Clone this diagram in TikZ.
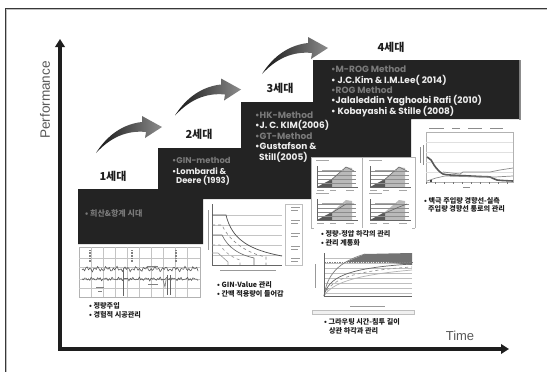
\documentclass[tikz,border=0pt]{standalone}
\usepackage{fontspec}
\setmainfont{Poppins}
\setsansfont{Liberation Sans}
\newfontfamily\kr{Noto Sans CJK KR}
\usetikzlibrary{arrows.meta}
\definecolor{ink}{HTML}{1E1E1E}
\definecolor{panel}{HTML}{232323}
\definecolor{dim}{HTML}{7A7A7A}
\definecolor{bright}{HTML}{EDEDED}
\definecolor{gridc}{HTML}{C4C4C4}
\tikzset{
  axisline/.style={line width=3.2pt,ink,-{Triangle[width=9.5pt,length=8pt]}},
  axislabel/.style={font=\sffamily\fontsize{13}{13}\selectfont,text=black!65,inner sep=0pt},
  gen/.style={font=\kr\bfseries\fontsize{11}{11}\selectfont,text=ink,inner sep=0pt},
  boxdim/.style={anchor=west,inner sep=0pt,text=dim,font=\bfseries\fontsize{9}{9}\selectfont},
  boxlit/.style={anchor=west,inner sep=0pt,text=bright,font=\bfseries\fontsize{9}{9}\selectfont},
  note/.style={anchor=west,inner sep=0pt,text=ink,font=\kr\bfseries\fontsize{7.1}{7.1}\selectfont},
  gridl/.style={gridc,line width=.6pt},
  plotax/.style={black!60,line width=.6pt},
  tinymark/.style={black!50,line width=1pt},
}
\newcommand{\sweep}[2]{%
  \shade[shift={(#1,#2)},left color=black!92,right color=black!45]
   (96,153) .. controls (108,134) and (124,124) .. (142,122)
   -- (142,116) -- (162,127) -- (145,138) -- (146,132)
   .. controls (126,130) and (110,138) .. cycle;}
\newcommand{\subplotq}[3]{%
  \begin{scope}[shift={(#1,#2)}]
   \fill[black!27] (332,179) -- (346,167) -- (352,168) -- (352,187) -- (332,187) -- cycle;
   \fill[black!65] (317,187) -- (332,179) -- (332,187) -- cycle;
   \foreach \yy in {171,175,179,183} \draw[black!45,line width=.4pt] (317,\yy) -- (356,\yy);
   \draw[black!60,line width=.6pt] (330,181) -- (346,#3) -- (354,171);
   \draw[plotax] (317,166) -- (317,187) -- (358,187);
   \draw[black!35,line width=1pt] (316,160) -- (329,160);
   \draw[black!35,line width=.8pt] (322,170) -- (344,170);
   \draw[black!35,line width=.8pt] (317,190) -- (324,190) (330,190) -- (336,190) (346,190) -- (354,190);
  \end{scope}}
\begin{document}
\begin{tikzpicture}[x=1pt,y=-1pt]
\useasboundingbox (0,0) rectangle (547,372);
\clip (0,0) rectangle (547,372);
\fill[white] (0,0) rectangle (547,372);
\draw[black!78,line width=1pt] (5.5,380) -- (5.5,8.5) -- (560,8.5);
\draw[black!25,line width=.6pt] (6.5,380) -- (6.5,9.5) -- (560,9.5);

% stepped black band
\fill[black!45] (519,60) rectangle (520.5,119.5);
\fill[panel] (78,189) -- (158,189) -- (158,148) -- (241,148) -- (241,102) -- (313,102) -- (313,60)
  -- (519,60) -- (519,119) -- (411,119) -- (411,157) -- (311,157) -- (311,199) -- (203,199) -- (203,244) -- (78,244) -- cycle;

% axes
\coordinate (origin) at (60,349);
\coordinate (ytip) at (60,39);
\coordinate (xtip) at (509,349);
\draw[axisline] (origin) -- (ytip);
\draw[axisline] ([xshift=-1.6pt]origin) -- (xtip);
\node[axislabel,rotate=90,font=\sffamily\fontsize{13.6}{13.6}\selectfont] (perf) at (45,100) {Performance};
\node[axislabel] (time) at (460,336) {Time};

% sweeping arrows
\sweep{0}{0}
\sweep{79}{-37.5}
\sweep{166}{-79}

% generation labels
\node[gen] (g1) at (113,176) {1세대};
\node[gen] (g2) at (199,134) {2세대};
\node[gen] (g3) at (280,88) {3세대};
\node[gen] (g4) at (391,47) {4세대};

% band texts
\node[anchor=west,inner sep=0pt,text=dim,font=\kr\bfseries\fontsize{8}{8}\selectfont] (t1) at (85,213) {• 희산\&항계 시대};
\node[boxdim,font=\bfseries\fontsize{8.4}{8.4}\selectfont] (t2a) at (172,160) {•GIN-method};
\node[boxlit,font=\bfseries\fontsize{8.4}{8.4}\selectfont] (t2b) at (172,171) {•Lombardi \&};
\node[boxlit,font=\bfseries\fontsize{8.4}{8.4}\selectfont] (t2c) at (176,181) {Deere (1993)};
\node[boxdim] (t3a) at (255,115) {•HK-Method};
\node[boxlit] (t3b) at (255,125) {•J. C. KIM(2006)};
\node[boxdim] (t3c) at (255,136) {•GT-Method};
\node[boxlit] (t3d) at (255,146) {•Gustafson \&};
\node[boxlit] (t3e) at (259,157) {Still(2005)};
\node[boxdim] (t4a) at (331,69) {•M-ROG Method};
\node[boxlit] (t4b) at (331,80) {• J.C.Kim \& I.M.Lee( 2014)};
\node[boxdim] (t4c) at (331,90) {•ROG Method};
\node[boxlit] (t4d) at (331,101) {•Jalaleddin Yaghoobi Rafi (2010)};
\node[boxlit] (t4e) at (331,112) {• Kobayashi \& Stille (2008)};

% chart 1
\draw[black!30,line width=.9pt,fill=white] (79,247) rectangle (200,297);
\foreach \yy in {258,267,279,288} \draw[gridl] (79,\yy) -- (200,\yy);
\foreach \xx in {91,103,115,127,139,151,163,175,187} \draw[gridl] (\xx,247) -- (\xx,297);
\draw[black!65,line width=.6pt,smooth] plot[domain=82:198,samples=90] (\x,{269+1.6*sin((\x-80)*95)+1.2*sin((\x-80)*37)});
\draw[black!65,line width=.6pt,smooth] plot[domain=82:198,samples=90] (\x,{279+1.1*sin((\x-80)*120)+.8*sin((\x-80)*53)});
\draw[black!60,line width=.9pt] (123,268) -- (123,296) (170,275) -- (170,295) (167,275) -- (167,295);
\draw[black!50,line width=.7pt] (163,280) -- (165,287) -- (166,280);
\foreach \xx in {90,132,176} \draw[black!50,line width=2pt,dash pattern=on 1pt off .6pt] (\xx,250) -- (\xx,262);
\draw[tinymark] (96,287) -- (104,287) (98,291) -- (102,291) (147,266) -- (158,266) (148,284) -- (158,284);
\node[note] (n1a) at (89,306) {• 정량주입};
\node[note] (n1b) at (89,315) {• 경험적 시공관리};

% chart 2
\foreach \yy in {215,225,235,245,255} \draw[gridl] (212,\yy) -- (282,\yy);
\draw[plotax] (212,204) -- (212,265) -- (282,265);
\draw[black!70,line width=.7pt] (212,215) -- (226,215) .. controls (232,240) and (250,250) .. (282,256);
\draw[black!50,line width=.6pt,dashed] (212,225) -- (222,225) .. controls (230,243) and (250,254) .. (266,257) -- (266,265);
\draw[black!60,line width=.6pt] (212,235) -- (222,235) .. controls (228,248) and (240,255) .. (254,258) -- (254,265);
\draw[black!40,line width=.6pt,dashed] (212,245) -- (220,245) .. controls (226,254) and (234,258) .. (240,260) -- (240,265);
\draw[black!40,line width=.6pt] (212,253) -- (218,253) -- (228,262) -- (228,265);
\draw[black!25,line width=.8pt] (285,204) rectangle (302,265);
\foreach \yy in {207,220,233,246,258}
  \draw[black!40,line width=.8pt] (291,\yy) -- (300,\yy) (291,\yy+3) -- (298,\yy+3);
\draw[black!40,line width=1pt] (208,210) -- (208,250);
\draw[black!40,line width=1pt] (220,270) -- (276,270);
\node[note] (n2a) at (217,285) {• GIN-Value 관리};
\node[note] (n2b) at (217,294) {• 간맥 적용량이 들어감};

% chart 3
\fill[white] (311,157) rectangle (415,228);
\draw[black!30,line width=.7pt] (311,157) -- (311,228) (362,157) -- (362,228) (415,157) -- (415,228) (311,157) -- (415,157) (311,228) -- (314,228) (412,228) -- (415,228);
\subplotq{0}{0}{167}
\subplotq{53}{0}{167}
\subplotq{0}{33}{171}
\subplotq{53}{33}{174}
\node[note] (n3a) at (321,234) {• 정량-정압 하각의 관리};
\node[note] (n3b) at (321,243) {• 관리 계통화};

% chart 4
\draw[black!30,line width=.6pt] (426,132) rectangle (513,182);
\foreach \yy in {142,152,162,172} \draw[black!12,line width=.4pt] (426,\yy) -- (513,\yy);
\draw[black!65,line width=1.6pt,smooth] plot coordinates {(427,157) (431,160) (434,165) (438,170) (443,174) (450,175) (460,175.5) (470,176) (480,176.5) (490,177) (497,180) (513,181)};
\draw[black!45,line width=.7pt] (443,172) -- (460,174) -- (463,172) -- (490,172) -- (500,170) -- (513,168);
\draw[black!45,line width=.7pt] (427,181) -- (436,178) -- (445,176) -- (480,177) -- (495,177) -- (513,176);
\fill[black] (431,181) circle (1.2);
\foreach \xx in {426,435,444,453,462,471,480,489,498,507} \draw[black!55,line width=.6pt] (\xx,182) -- (\xx,184);
\draw[black!45,line width=.8pt] (423,145) -- (423,165) (420,147) -- (420,163);
\draw[black!45,line width=.8pt] (429,128) -- (444,128) (452,128) -- (460,128) (468,128) -- (482,128) (490,128) -- (503,128);
\draw[black!45,line width=.8pt] (463,187) -- (470,187);
\node[note] (n4a) at (424,201) {• 맥극 주입량 경향선-실측};
\node[note] (n4b) at (428,209) {주입량 경향선 통로의 관리};

% chart 5
\foreach \yy in {258,263,268,273,278,283,288,293} \draw[black!25,line width=.5pt] (324,\yy) -- (412,\yy);
\fill[black!55] (346,262) -- (365,254) -- (412,253) -- (412,265) -- (385,262) .. controls (370,262) and (358,262) .. cycle;
\draw[black!50,line width=.6pt,dash pattern=on 1.5pt off 1pt] (324,262) -- (412,262);
\draw[black!50,line width=.7pt] (324,296) .. controls (327,275) and (338,262) .. (365,254);
\draw[black!60,line width=.7pt] (324,296) .. controls (328,278) and (345,268) .. (412,264);
\draw[black!40,line width=.7pt,dashed] (324,296) .. controls (330,280) and (350,271) .. (412,267);
\draw[black!30,line width=.7pt] (324,296) .. controls (332,283) and (355,275) .. (412,270);
\draw[plotax] (324,253) -- (324,296) -- (412,296);
\draw[black!40,line width=1pt] (315,264) -- (315,288);
\draw[black!40,line width=.9pt] (350,306) -- (385,306);
\draw[black!25,line width=.6pt,fill=black!6] (312,310) rectangle (414,314);
\node[note] (n5a) at (324,322) {• 그라우팅 시간-침투 길이};
\node[note] (n5b) at (329,331) {상관 하각과 관리};
\end{tikzpicture}
\end{document}
